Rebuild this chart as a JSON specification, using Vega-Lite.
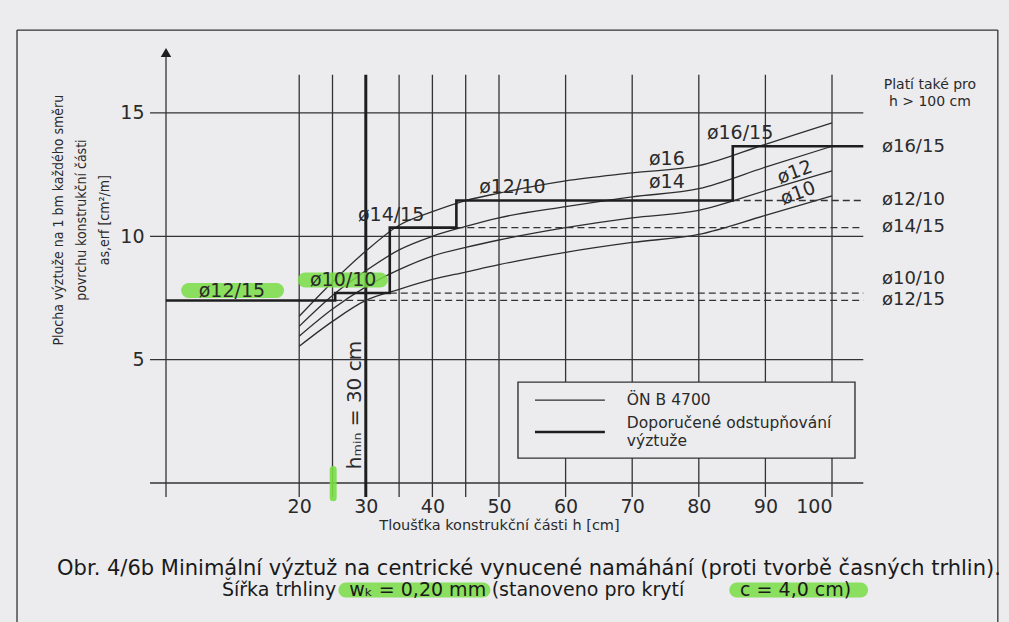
{
  "$schema": "https://vega.github.io/schema/vega-lite/v6.json",
  "width": 666,
  "height": 419.4,
  "autosize": {"type": "none"},
  "padding": {"left": 166, "top": 63.6, "right": 177, "bottom": 139},
  "background": "#ececef",
  "config": {
    "view": {"stroke": null},
    "font": "DejaVu Sans",
    "text": {"font": "DejaVu Sans", "color": "#2a2a2a"}
  },
  "datasets": {
    "thin": [
      {"h": -22.37, "a": -6.5, "h2": -22.37, "a2": 18.36},
      {"h": 124.9, "a": -6.5, "h2": 124.9, "a2": 18.36},
      {"h": -22.37, "a": 18.36, "h2": 124.9, "a2": 18.36},
      {"h": 20, "a": -0.57, "h2": 20, "a2": 16.55},
      {"h": 25, "a": -0.57, "h2": 25, "a2": 16.55},
      {"h": 35, "a": -0.57, "h2": 35, "a2": 16.55},
      {"h": 40, "a": -0.57, "h2": 40, "a2": 16.55},
      {"h": 45, "a": -0.57, "h2": 45, "a2": 16.55},
      {"h": 50, "a": -0.57, "h2": 50, "a2": 16.55},
      {"h": 60, "a": -0.57, "h2": 60, "a2": 16.55},
      {"h": 70, "a": -0.57, "h2": 70, "a2": 16.55},
      {"h": 80, "a": -0.57, "h2": 80, "a2": 16.55},
      {"h": 90, "a": -0.57, "h2": 90, "a2": 16.55},
      {"h": 100, "a": -0.57, "h2": 100, "a2": 16.55},
      {"h": -2.4, "a": 5, "h2": 104.7, "a2": 5},
      {"h": -2.4, "a": 10, "h2": 104.7, "a2": 10},
      {"h": -2.4, "a": 15, "h2": 104.7, "a2": 15},
      {"h": -2.4, "a": 0, "h2": 104.7, "a2": 0},
      {"h": 0, "a": -0.57, "h2": 0, "a2": 17.3}
    ],
    "hmin": [
      {"h": 30, "a": -0.57, "h2": 30, "a2": 16.55}
    ],
    "dashed": [
      {"name": "ø12/15", "h": 25.4, "a": 7.4, "h2": 104.7, "a2": 7.4},
      {"name": "ø10/10", "h": 33.6, "a": 7.7, "h2": 104.7, "a2": 7.7},
      {"name": "ø14/15", "h": 43.6, "a": 10.35, "h2": 104.7, "a2": 10.35},
      {"name": "ø12/10", "h": 85.1, "a": 11.45, "h2": 104.7, "a2": 11.45}
    ],
    "curves": [
      {"d": "ø16", "h": 20, "a": 6.76}, {"d": "ø16", "h": 25, "a": 8.15}, {"d": "ø16", "h": 30, "a": 9.4}, {"d": "ø16", "h": 35, "a": 10.45}, {"d": "ø16", "h": 40, "a": 11.0}, {"d": "ø16", "h": 45, "a": 11.45}, {"d": "ø16", "h": 50, "a": 11.75}, {"d": "ø16", "h": 60, "a": 12.25}, {"d": "ø16", "h": 70, "a": 12.57}, {"d": "ø16", "h": 80, "a": 12.86}, {"d": "ø16", "h": 90, "a": 13.73}, {"d": "ø16", "h": 100, "a": 14.6},
      {"d": "ø14", "h": 20, "a": 6.35}, {"d": "ø14", "h": 25, "a": 7.6}, {"d": "ø14", "h": 30, "a": 8.6}, {"d": "ø14", "h": 35, "a": 9.45}, {"d": "ø14", "h": 40, "a": 10.0}, {"d": "ø14", "h": 45, "a": 10.4}, {"d": "ø14", "h": 50, "a": 10.75}, {"d": "ø14", "h": 60, "a": 11.2}, {"d": "ø14", "h": 70, "a": 11.6}, {"d": "ø14", "h": 80, "a": 11.93}, {"d": "ø14", "h": 90, "a": 12.8}, {"d": "ø14", "h": 100, "a": 13.65},
      {"d": "ø12", "h": 20, "a": 5.95}, {"d": "ø12", "h": 25, "a": 7.05}, {"d": "ø12", "h": 30, "a": 7.95}, {"d": "ø12", "h": 35, "a": 8.65}, {"d": "ø12", "h": 40, "a": 9.2}, {"d": "ø12", "h": 45, "a": 9.55}, {"d": "ø12", "h": 50, "a": 9.85}, {"d": "ø12", "h": 60, "a": 10.35}, {"d": "ø12", "h": 70, "a": 10.75}, {"d": "ø12", "h": 80, "a": 11.05}, {"d": "ø12", "h": 90, "a": 11.85}, {"d": "ø12", "h": 100, "a": 12.65},
      {"d": "ø10", "h": 20, "a": 5.54}, {"d": "ø10", "h": 25, "a": 6.55}, {"d": "ø10", "h": 30, "a": 7.4}, {"d": "ø10", "h": 35, "a": 7.85}, {"d": "ø10", "h": 40, "a": 8.25}, {"d": "ø10", "h": 45, "a": 8.55}, {"d": "ø10", "h": 50, "a": 8.85}, {"d": "ø10", "h": 60, "a": 9.35}, {"d": "ø10", "h": 70, "a": 9.75}, {"d": "ø10", "h": 80, "a": 10.08}, {"d": "ø10", "h": 90, "a": 10.85}, {"d": "ø10", "h": 100, "a": 11.64}
    ],
    "step": [
      {"o": 1, "h": 0, "a": 7.4}, {"o": 2, "h": 25.4, "a": 7.4}, {"o": 3, "h": 25.4, "a": 7.7},
      {"o": 4, "h": 33.6, "a": 7.7}, {"o": 5, "h": 33.6, "a": 10.35}, {"o": 6, "h": 43.6, "a": 10.35},
      {"o": 7, "h": 43.6, "a": 11.45}, {"o": 8, "h": 85.1, "a": 11.45}, {"o": 9, "h": 85.1, "a": 13.65},
      {"o": 10, "h": 104.7, "a": 13.65}
    ],
    "box": [{"h": 52.85, "h2": 103.45, "a": 1.01, "a2": 4.09}],
    "legThin": [{"h": 55.4, "h2": 65.9, "a": 3.36, "a2": 3.36}],
    "legThick": [{"h": 55.4, "h2": 65.9, "a": 2.07, "a2": 2.07}],
    "green": [
      {"h": 3.4, "h2": 16.6, "a": 7.8, "a2": 7.8},
      {"h": 20.9, "h2": 32.2, "a": 8.23, "a2": 8.23},
      {"h": 27.0, "h2": 47.6, "a": -4.34, "a2": -4.34},
      {"h": 85.7, "h2": 104.3, "a": -4.34, "a2": -4.34}
    ],
    "greenTick": [{"h": 25.1, "h2": 25.1, "a": -0.6, "a2": 0.55}],
    "arrow": [{"h": 0, "a": 17.45}],
    "labC": [
      {"h": 33.8, "a": 10.86, "t": "ø14/15"},
      {"h": 52.0, "a": 11.98, "t": "ø12/10"},
      {"h": 75.2, "a": 13.14, "t": "ø16"},
      {"h": 75.2, "a": 12.2, "t": "ø14"},
      {"h": 86.2, "a": 14.2, "t": "ø16/15"},
      {"h": 9.9, "a": 7.8, "t": "ø12/15"},
      {"h": 26.6, "a": 8.23, "t": "ø10/10"}
    ],
    "labR": [
      {"h": 94.4, "a": 12.6, "t": "ø12"},
      {"h": 94.9, "a": 11.75, "t": "ø10"}
    ],
    "labRight": [
      {"h": 107.5, "a": 13.62, "t": "ø16/15"},
      {"h": 107.5, "a": 11.47, "t": "ø12/10"},
      {"h": 107.5, "a": 10.38, "t": "ø14/15"},
      {"h": 107.5, "a": 8.25, "t": "ø10/10"},
      {"h": 107.5, "a": 7.4, "t": "ø12/15"}
    ],
    "hminText": [{"h": 28.4, "a": 3.16, "t": "hₘᵢₙ = 30 cm"}],
    "plati": [
      {"h": 114.7, "a": 16.12, "t": "Platí také pro"},
      {"h": 114.7, "a": 15.45, "t": "h > 100 cm"}
    ],
    "legText": [
      {"h": 69.2, "a": 3.36, "t": "ÖN B 4700"},
      {"h": 69.2, "a": 2.44, "t": "Doporučené odstupňování"},
      {"h": 69.2, "a": 1.72, "t": "výztuže"}
    ],
    "cap1": [{"h": 54.5, "a": -3.49, "t": "Obr. 4/6b Minimální výztuž na centrické vynucené namáhání (proti tvorbě časných trhlin)."}],
    "cap2": [
      {"h": 8.4, "a": -4.34, "t": "Šířka trhliny"},
      {"h": 27.5, "a": -4.34, "t": "wₖ = 0,20 mm"},
      {"h": 48.9, "a": -4.34, "t": "(stanoveno pro krytí"},
      {"h": 86.2, "a": -4.34, "t": "c = 4,0 cm)"}
    ]
  },
  "encoding": {
    "x": {
      "field": "h", "type": "quantitative",
      "scale": {"domain": [0, 100], "nice": false, "zero": false},
      "axis": {
        "values": [20, 30, 40, 50, 60, 70, 80, 90, 100],
        "domain": false, "ticks": false, "grid": false,
        "labelPadding": 14, "labelFontSize": 19, "labelColor": "#2a2a2a", "labelFont": "DejaVu Sans",
        "title": "Tloušťka konstrukční části h [cm]",
        "titleFontSize": 14.5, "titleFontWeight": "normal", "titleColor": "#2a2a2a", "titleFont": "DejaVu Sans",
        "titlePadding": 2
      }
    },
    "y": {
      "field": "a", "type": "quantitative",
      "scale": {"domain": [0, 17], "nice": false, "zero": false},
      "axis": {
        "values": [5, 10, 15],
        "domain": false, "ticks": false, "grid": false,
        "labelPadding": 22, "labelFontSize": 19, "labelColor": "#2a2a2a", "labelFont": "DejaVu Sans",
        "title": ["Plocha výztuže na 1 bm každého směru", "povrchu konstrukční části", "as,erf [cm²/m]"],
        "titleAngle": 270, "titleX": -108, "titleY": 156, "titleAlign": "center", "titleBaseline": "middle",
        "titleFontSize": 14, "titleFontWeight": "normal", "titleLineHeight": 23, "titleColor": "#2a2a2a",
        "titleFont": "DejaVu Sans Condensed, DejaVu Sans"
      }
    }
  },
  "layer": [
    {"data": {"name": "thin"}, "mark": {"type": "rule", "color": "#333333", "strokeWidth": 1.3},
     "encoding": {"x2": {"field": "h2"}, "y2": {"field": "a2"}}},
    {"data": {"name": "hmin"}, "mark": {"type": "rule", "color": "#1e1e1e", "strokeWidth": 3},
     "encoding": {"x2": {"field": "h2"}, "y2": {"field": "a2"}}},
    {"data": {"name": "arrow"}, "mark": {"type": "point", "shape": "triangle-up", "filled": true, "color": "#1e1e1e", "size": 110, "opacity": 1}},
    {"data": {"name": "greenTick"}, "mark": {"type": "rule", "color": "#79dd45", "strokeWidth": 7, "strokeCap": "round", "opacity": 0.9},
     "encoding": {"x2": {"field": "h2"}, "y2": {"field": "a2"}}},
    {"data": {"name": "curves"}, "mark": {"type": "line", "color": "#2e2e2e", "strokeWidth": 1.3, "interpolate": "monotone"},
     "encoding": {"detail": {"field": "d", "type": "nominal"}, "order": {"field": "h", "type": "quantitative"}}},
    {"data": {"name": "dashed"}, "mark": {"type": "rule", "color": "#333333", "strokeWidth": 1.3, "strokeDash": [7, 4]},
     "encoding": {"x2": {"field": "h2"}, "y2": {"field": "a2"}}},
    {"data": {"name": "step"}, "mark": {"type": "line", "color": "#1e1e1e", "strokeWidth": 2.6},
     "encoding": {"order": {"field": "o", "type": "quantitative"}}},
    {"data": {"name": "box"}, "mark": {"type": "rect", "fill": "#ececef", "stroke": "#333333", "strokeWidth": 1.4},
     "encoding": {"x2": {"field": "h2"}, "y2": {"field": "a2"}}},
    {"data": {"name": "legThin"}, "mark": {"type": "rule", "color": "#2e2e2e", "strokeWidth": 1.3},
     "encoding": {"x2": {"field": "h2"}, "y2": {"field": "a2"}}},
    {"data": {"name": "legThick"}, "mark": {"type": "rule", "color": "#1e1e1e", "strokeWidth": 2.6},
     "encoding": {"x2": {"field": "h2"}, "y2": {"field": "a2"}}},
    {"data": {"name": "green"}, "mark": {"type": "rule", "color": "#79dd45", "strokeWidth": 15, "strokeCap": "round", "opacity": 0.85},
     "encoding": {"x2": {"field": "h2"}, "y2": {"field": "a2"}}},
    {"data": {"name": "labC"}, "mark": {"type": "text", "fontSize": 19, "align": "center", "baseline": "middle"},
     "encoding": {"text": {"field": "t"}}},
    {"data": {"name": "labR"}, "mark": {"type": "text", "fontSize": 19, "align": "center", "baseline": "middle", "angle": 340},
     "encoding": {"text": {"field": "t"}}},
    {"data": {"name": "labRight"}, "mark": {"type": "text", "fontSize": 18, "align": "left", "baseline": "middle"},
     "encoding": {"text": {"field": "t"}}},
    {"data": {"name": "hminText"}, "mark": {"type": "text", "fontSize": 20, "align": "center", "baseline": "middle", "angle": 270},
     "encoding": {"text": {"field": "t"}}},
    {"data": {"name": "plati"}, "mark": {"type": "text", "fontSize": 14, "align": "center", "baseline": "middle"},
     "encoding": {"text": {"field": "t"}}},
    {"data": {"name": "legText"}, "mark": {"type": "text", "fontSize": 15.5, "align": "left", "baseline": "middle"},
     "encoding": {"text": {"field": "t"}}},
    {"data": {"name": "cap1"}, "mark": {"type": "text", "fontSize": 21, "align": "center", "baseline": "middle", "color": "#1a1a1a"},
     "encoding": {"text": {"field": "t"}}},
    {"data": {"name": "cap2"}, "mark": {"type": "text", "fontSize": 19, "align": "left", "baseline": "middle", "color": "#1a1a1a"},
     "encoding": {"text": {"field": "t"}}}
  ]
}
